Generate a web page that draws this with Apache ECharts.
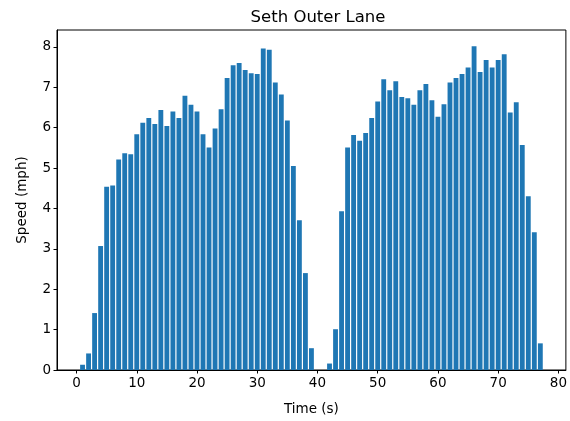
<!DOCTYPE html>
<html>
<head>
<meta charset="utf-8">
<script src="https://cdn.jsdelivr.net/npm/echarts@6/dist/echarts.min.js"></script>
<style>
html,body{margin:0;padding:0;background:#fff;}
#chart{width:570px;height:421px;}
</style>
</head>
<body>
<div id="chart"></div>
<script>
// Data
const times = [];
for (let t = 1; t <= 77; t++) times.push(t);
const speeds = [
  0.13, 0.41, 1.41, 3.07, 4.54, 4.57, 5.21, 5.37, 5.34, 5.84,
  6.12, 6.24, 6.09, 6.44, 6.04, 6.40, 6.24, 6.79, 6.57, 6.40,
  5.84, 5.51, 5.98, 6.46, 7.23, 7.55, 7.60, 7.43, 7.35, 7.33,
  7.96, 7.93, 7.12, 6.82, 6.18, 5.05, 3.71, 2.40, 0.54, 0.00,
  0.00, 0.16, 1.01, 3.93, 5.51, 5.82, 5.68, 5.87, 6.24, 6.65,
  7.20, 6.93, 7.15, 6.76, 6.73, 6.57, 6.93, 7.08, 6.68, 6.27,
  6.58, 7.12, 7.23, 7.33, 7.49, 8.02, 7.38, 7.68, 7.49, 7.68,
  7.82, 6.38, 6.63, 5.57, 4.30, 3.41, 0.66
];
const xTicks = [0, 10, 20, 30, 40, 50, 60, 70, 80];
const yTicks = [0, 1, 2, 3, 4, 5, 6, 7, 8];
const titleText = 'Seth Outer Lane';
const xLabel = 'Time (s)';
const yLabel = 'Speed (mph)';

const xMin = -3.24, xMax = 81.24, yMin = 0, yMax = 8.42;
const gridLeft = 57, gridRight = 1, gridTop = 30, gridBottom = 51;
const plotW = 570 - gridLeft - gridRight;
const barW = 0.8 * plotW / (xMax - xMin);

const font = 'DejaVu Sans';
const chart = echarts.init(document.getElementById('chart'), null, {renderer: 'canvas'});
chart.setOption({
  animation: false,
  backgroundColor: '#ffffff',
  title: {
    text: titleText,
    left: gridLeft + plotW / 2,
    top: 4,
    textAlign: 'center',
    textStyle: {fontFamily: font, fontSize: 16.5, fontWeight: 'normal', color: '#000'}
  },
  grid: {left: gridLeft, right: gridRight, top: gridTop, bottom: gridBottom,
         show: true, borderColor: '#000', borderWidth: 1, backgroundColor: 'transparent'},
  xAxis: {
    type: 'value', min: xMin, max: xMax,
    name: xLabel, nameLocation: 'middle', nameGap: 32,
    nameTextStyle: {fontFamily: font, fontSize: 13.5, color: '#000'},
    axisLine: {show: true, onZero: false, lineStyle: {color: '#000', width: 1}},
    axisTick: {show: true, length: 3.5, customValues: xTicks, lineStyle: {color: '#000'}},
    axisLabel: {customValues: xTicks, fontFamily: font, fontSize: 13.5, color: '#000', margin: 6},
    splitLine: {show: false}
  },
  yAxis: {
    type: 'value', min: yMin, max: yMax,
    name: yLabel, nameLocation: 'middle', nameGap: 28, nameRotate: 90,
    nameTextStyle: {fontFamily: font, fontSize: 13.5, color: '#000'},
    axisLine: {show: true, onZero: false, lineStyle: {color: '#000', width: 1}},
    axisTick: {show: true, length: 3.5, customValues: yTicks, lineStyle: {color: '#000'}},
    axisLabel: {customValues: yTicks, fontFamily: font, fontSize: 13.5, color: '#000', margin: 6},
    splitLine: {show: false}
  },
  series: [{
    type: 'bar',
    data: times.map((t, i) => [t, speeds[i]]),
    barWidth: barW,
    itemStyle: {color: '#1f77b4'}
  }]
});
</script>
</body>
</html>
